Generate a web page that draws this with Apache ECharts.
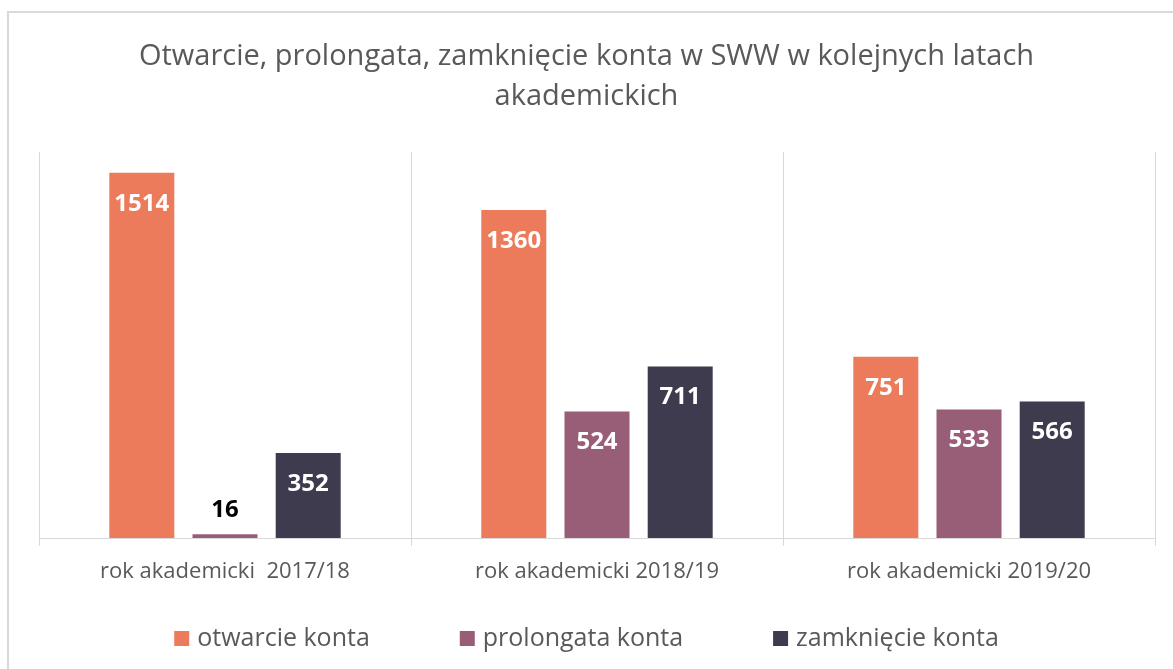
<!DOCTYPE html>
<html>
<head>
<meta charset="utf-8">
<script src="https://cdn.jsdelivr.net/npm/echarts@6/dist/echarts.min.js"></script>
<style>
  html, body { margin: 0; padding: 0; background: #fff; }
  #chart { width: 1173px; height: 669px; }
</style>
</head>
<body>
<div id="chart"></div>
<script>
const categories = ['rok akademicki  2017/18', 'rok akademicki 2018/19', 'rok akademicki 2019/20']
const seriesNames = ['otwarcie konta', 'prolongata konta', 'zamknięcie konta']
const otwarcie = [1514, 1360, 751]
const prolongata = [16, 524, 533]
const zamkniecie = [352, 711, 566]
const colors = ['#EB7B5A', '#985D77', '#3D3B4D']

const chart = echarts.init(document.getElementById('chart'))
const font = 'Open Sans'

// small values don't fit inside the bar, so label goes on top in black
function barData(values) {
  return values.map(v => {
    if (v < 100) {
      return {
        value: v,
        label: { position: 'top', distance: 12, color: '#000' }
      }
    }
    return v
  })
}

const series = [otwarcie, prolongata, zamkniecie].map((vals, i) => ({
  name: seriesNames[i],
  type: 'bar',
  data: barData(vals),
  barWidth: 65,
  barGap: '28%',
  itemStyle: { color: colors[i] },
  label: {
    show: true,
    position: 'insideTop',
    distance: 19,
    color: '#fff',
    fontFamily: font,
    fontWeight: 'bold',
    fontSize: 24
  }
}))

chart.setOption({
  animation: false,
  color: colors,
  graphic: [{
    type: 'rect',
    shape: { x: 8, y: 12, width: 1180, height: 680 },
    style: { fill: 'none', stroke: '#d9d9d9', lineWidth: 2 }
  }],
  title: {
    text: 'Otwarcie, prolongata, zamknięcie konta w SWW w kolejnych latach\nakademickich',
    left: 'center',
    top: 32,
    textStyle: {
      fontFamily: font,
      fontWeight: 'normal',
      fontSize: 29,
      lineHeight: 40,
      color: '#595959'
    }
  },
  legend: {
    top: 621,
    left: 'center',
    itemWidth: 15,
    itemHeight: 15,
    itemGap: 90,
    icon: 'rect',
    textStyle: { fontFamily: font, fontSize: 25, color: '#595959', padding: [0, 0, 0, 3] },
    data: seriesNames
  },
  grid: { left: 39, right: 18, top: 152, bottom: 131 },
  xAxis: {
    type: 'category',
    data: categories,
    axisLine: { lineStyle: { color: '#d9d9d9', width: 1 } },
    axisTick: { show: true, length: 8, lineStyle: { color: '#d9d9d9' } },
    splitLine: { show: true, lineStyle: { color: '#d9d9d9' } },
    axisLabel: { fontFamily: font, fontSize: 22, color: '#595959', margin: 23 }
  },
  yAxis: {
    type: 'value',
    min: 0,
    max: 1600,
    show: false,
    splitLine: { show: false }
  },
  series: series
})
</script>
</body>
</html>
